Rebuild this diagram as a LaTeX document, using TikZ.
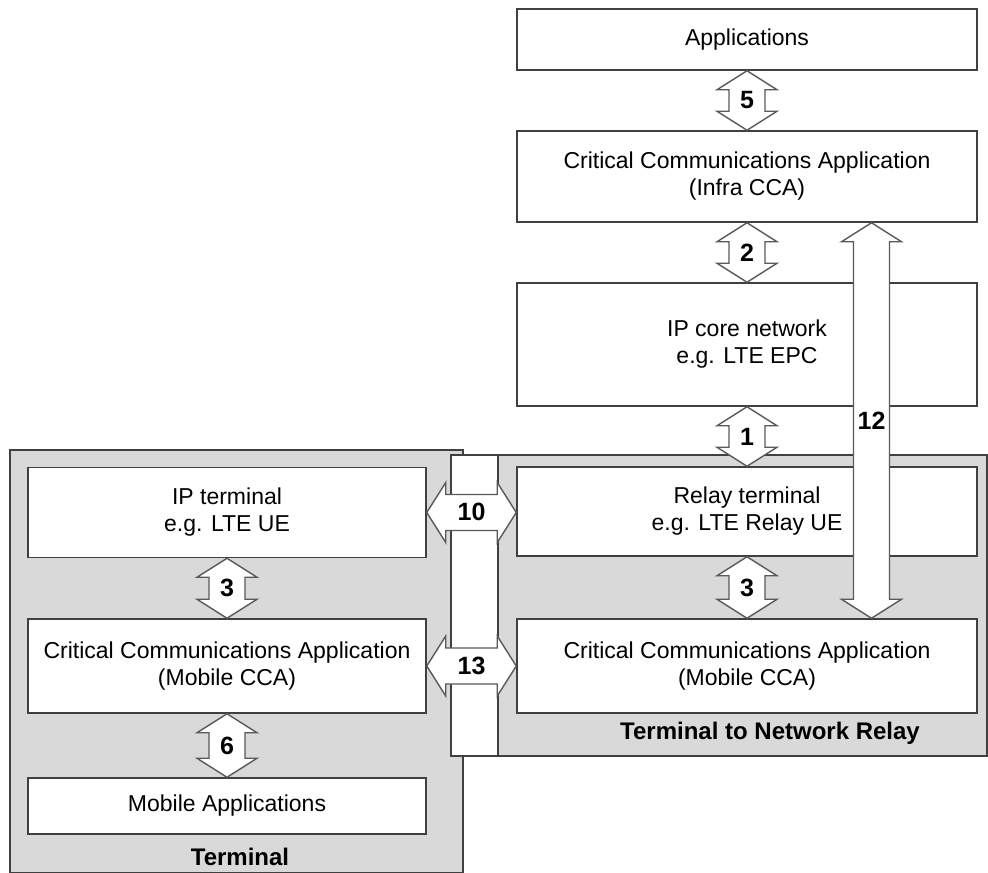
\documentclass[tikz,border=0pt]{standalone}
\usepackage{fontspec}
\setmainfont{Liberation Sans}
\usetikzlibrary{calc}

\tikzset{
  box/.style={draw=black!75, line width=0.75pt, fill=white, font=\fontsize{11.5}{13.5}\selectfont, align=center, inner sep=0pt},
  group/.style={draw=black!75, line width=0.75pt, fill=black!15},
  gap/.style={draw=black!75, line width=0.6pt, fill=white},
  blockarrow/.style={draw=black!65, line width=0.7pt, fill=white, line join=miter},
  numlabel/.style={font=\fontsize{12.5}{14}\selectfont\bfseries, inner sep=0pt},
  grouplabel/.style={font=\fontsize{12}{14}\selectfont\bfseries, inner sep=0pt}
}

% vertical double block arrow: top, bottom, label
\newcommand{\vblock}[3]{%
  \draw[blockarrow] let \p1=(#1), \p2=(#2) in
    (\x1,\y1) -- (\x1+15pt,\y1-9.5pt) -- (\x1+9pt,\y1-9.5pt) -- (\x1+9pt,\y2+9.5pt)
    -- (\x1+15pt,\y2+9.5pt) -- (\x1,\y2) -- (\x1-15pt,\y2+9.5pt) -- (\x1-9pt,\y2+9.5pt)
    -- (\x1-9pt,\y1-9.5pt) -- (\x1-15pt,\y1-9.5pt) -- cycle;
  \node[numlabel] at ($(#1)!.5!(#2)$) {#3};
}
% horizontal double block arrow: left, right, label
\newcommand{\hblock}[3]{%
  \draw[blockarrow] let \p1=(#1), \p2=(#2) in
    (\x1,\y1) -- (\x1+9.5pt,\y1+15pt) -- (\x1+9.5pt,\y1+9pt) -- (\x2-9.5pt,\y1+9pt)
    -- (\x2-9.5pt,\y1+15pt) -- (\x2,\y1) -- (\x2-9.5pt,\y1-15pt) -- (\x2-9.5pt,\y1-9pt)
    -- (\x1+9.5pt,\y1-9pt) -- (\x1+9.5pt,\y1-15pt) -- cycle;
  \node[numlabel] at ($(#1)!.5!(#2)$) {#3};
}

\begin{document}
\begin{tikzpicture}[x=0.5pt,y=-0.5pt]
  \useasboundingbox (0,0) rectangle (988,872);

  %GROUPS
  \draw[group] (10,450) rectangle (463,873);
  \draw[group] (498,455) rectangle (987,756);
  \draw[gap] (451,455) rectangle (498,756);
  \node[grouplabel] (termlbl) at (240,857) {Terminal};
  \node[grouplabel] (relaylbl) at (770,733) {Terminal to Network Relay};

  %RIGHT COLUMN
  \node[box, minimum width=230pt, minimum height=30.5pt] (apps) at (747,39.5) {Applications};
  \node[box, minimum width=230pt, minimum height=45.5pt] (infra) at (747,176.5)
    {Critical Communications Application\\(Infra CCA)};
  \node[box, minimum width=230pt, minimum height=61.5pt] (core) at (747,344.5)
    {IP core network\\e.g. LTE EPC};
  \node[box, minimum width=230pt, minimum height=44.5pt] (relay) at (747,511.5)
    {Relay terminal\\e.g. LTE Relay UE};
  \node[box, minimum width=230pt, minimum height=47pt] (rcca) at (747,666)
    {Critical Communications Application\\(Mobile CCA)};

  %LEFT COLUMN
  \node[box, minimum width=199pt, minimum height=45pt] (ipterm) at (227,512.5)
    {IP terminal\\e.g. LTE UE};
  \node[box, minimum width=199pt, minimum height=47pt] (lcca) at (227,666)
    {Critical Communications Application\\(Mobile CCA)};
  \node[box, minimum width=199pt, minimum height=28pt] (mobapps) at (227,806)
    {Mobile Applications};

  %ARROWS
  \vblock{apps.south}{infra.north}{5}
  \vblock{infra.south}{core.north}{2}
  \vblock{core.south}{relay.north}{1}
  \vblock{relay.south}{rcca.north}{3}
  \vblock{ipterm.south}{lcca.north}{3}
  \vblock{lcca.south}{mobapps.north}{6}
  \coordinate (x12) at (871.5,0);
  \coordinate (t12) at (x12 |- infra.south);
  \coordinate (b12) at (x12 |- rcca.north);
  \vblock{t12}{b12}{12}
  \hblock{ipterm.east}{relay.west}{10}
  \hblock{lcca.east}{rcca.west}{13}
\end{tikzpicture}
\end{document}
